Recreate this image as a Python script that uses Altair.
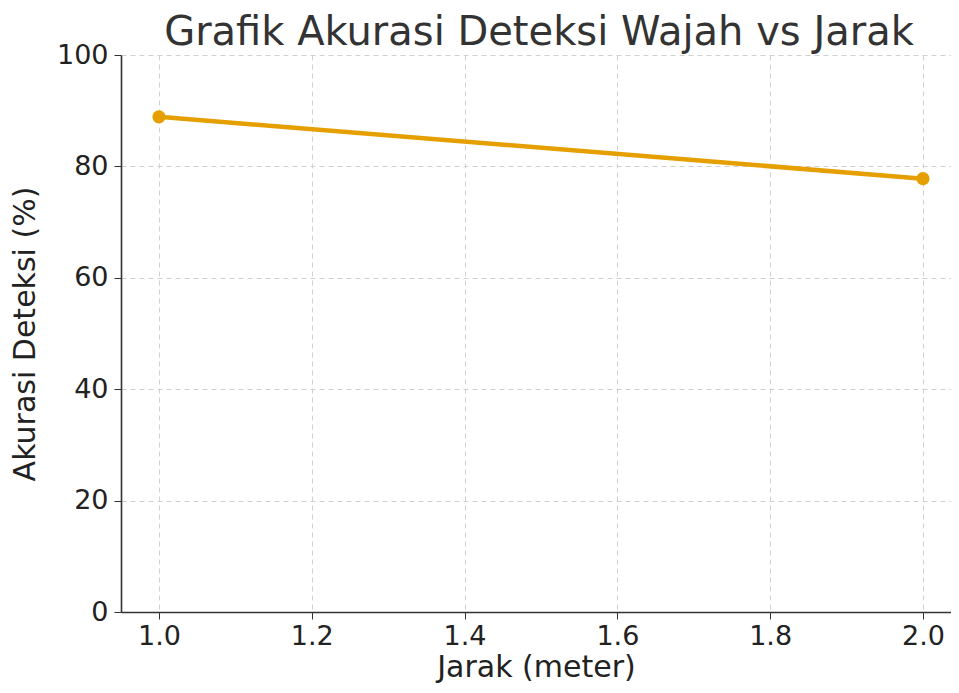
import altair as alt
import pandas as pd

jarak = [1.0, 2.0]
akurasi = [88.9, 77.8]
x_ticks = [1.0, 1.2, 1.4, 1.6, 1.8, 2.0]
y_ticks = [0, 20, 40, 60, 80, 100]

df = pd.DataFrame({"jarak": jarak, "akurasi": akurasi})
color = "#E69F00"

common = dict(labelFontSize=27, titleFontSize=30, titleFontWeight="normal",
              labelColor="#222222", titleColor="#222222", tickSize=7,
              tickColor="#333333", domainColor="#333333", domainWidth=1.6,
              gridDash=[5, 4], gridColor="#d0d0d0", gridWidth=1)

x = alt.X("jarak:Q", title="Jarak (meter)",
          scale=alt.Scale(domain=[0.9503, 2.0367], nice=False, zero=False),
          axis=alt.Axis(values=x_ticks, format=".1f", labelPadding=4, titlePadding=3, **common))
y = alt.Y("akurasi:Q", title="Akurasi Deteksi (%)",
          scale=alt.Scale(domain=[0, 100], nice=False),
          axis=alt.Axis(values=y_ticks, labelPadding=6, titlePadding=16, **common))

line = alt.Chart(df).mark_line(color=color, strokeWidth=4.5).encode(x=x, y=y)
pts = alt.Chart(df).mark_point(color=color, filled=True, opacity=1, size=175).encode(x=x, y=y)

chart = (line + pts).properties(
    width=830, height=557,
    title=alt.TitleParams("Grafik Akurasi Deteksi Wajah vs Jarak", fontSize=40,
                          fontWeight="normal", color="#333333", anchor="middle", offset=0,
                          dy=12, dx=3, font="DejaVu Sans"),
    autosize=alt.AutoSizeParams(type="none"),
    padding={"left": 113, "top": 47, "right": 0, "bottom": 72},
).configure(font="DejaVu Sans").configure_view(stroke=None)

chart.save("out.html", embed_options={"renderer": "svg", "actions": False})
